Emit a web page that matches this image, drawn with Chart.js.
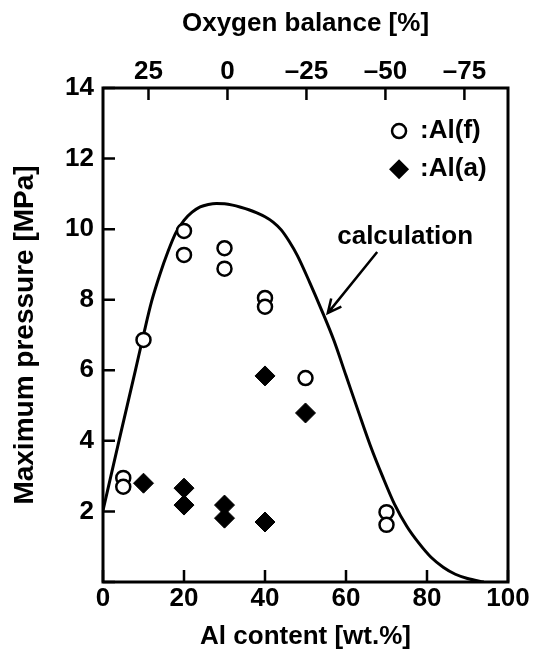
<!DOCTYPE html>
<html>
<head>
<meta charset="utf-8">
<script src="https://cdn.jsdelivr.net/npm/chart.js@4.4.1/dist/chart.umd.min.js"></script>
<style>
  html, body { margin: 0; padding: 0; background: #fff; }
  #wrap { width: 534px; height: 661px; }
</style>
</head>
<body>
<div id="wrap"><canvas id="pressureChart"></canvas></div>
<script>
// Maximum pressure vs Al content

const alContentTicks = [0, 20, 40, 60, 80, 100];
const pressureTicks = [0, 2, 4, 6, 8, 10, 12, 14];
const oxygenBalanceTicks = [25, 0, -25, -50, -75];
// oxygen balance at 0 and 100 wt.% Al
const oxygenBalanceEnds = [39.4, -88.8];

// Al(f) - open circles
const alFx = [5, 5, 10, 20, 20, 30, 30, 40, 40, 50, 70, 70];
const alFy = [2.95, 2.7, 6.86, 9.95, 9.27, 9.46, 8.88, 8.05, 7.8, 5.78, 1.98, 1.62];

// Al(a) - filled diamonds
const alAx = [10, 20, 20, 30, 30, 40, 40, 50];
const alAy = [2.8, 2.66, 2.18, 2.18, 1.81, 5.84, 1.7, 4.79];

// calculation curve
const calcX = [0, 4, 8, 10, 12, 14, 16, 18, 20, 22, 24, 26, 28, 30, 32, 34, 36, 38, 40, 42, 44, 46, 48, 51, 54, 57, 60, 63, 66, 69, 72, 75, 78, 81, 84, 87, 90, 94];
const calcY = [2.03, 4.03, 6.0, 7.0, 7.95, 8.7, 9.35, 9.9, 10.25, 10.48, 10.63, 10.7, 10.73, 10.72, 10.68, 10.62, 10.55, 10.46, 10.35, 10.2, 9.98, 9.65, 9.25, 8.5, 7.7, 6.85, 5.85, 4.85, 3.87, 3.0, 2.2, 1.58, 1.1, 0.7, 0.42, 0.22, 0.1, 0];

const seriesLabels = [':Al(f)', ':Al(a)'];
const curveLabel = 'calculation';

const toPoints = (xs, ys) => xs.map((x, i) => ({ x: x, y: ys[i] }));

Chart.defaults.font.family = '"Liberation Sans", Arial, Helvetica, sans-serif';
Chart.defaults.font.size = 26;
Chart.defaults.font.weight = 'bold';
Chart.defaults.color = '#000';

// frame, inward tick marks
const frameTicks = {
    id: 'frameTicks',
    afterDatasetsDraw(chart) {
        const { ctx, chartArea: a, scales } = chart;
        ctx.save();
        ctx.strokeStyle = '#000';
        ctx.lineWidth = 2.5;
        ctx.beginPath();
        scales.x.ticks.forEach(t => {
            const px = scales.x.getPixelForValue(t.value);
            ctx.moveTo(px, a.bottom);
            ctx.lineTo(px, a.bottom - 12);
        });
        scales.x2.ticks.forEach(t => {
            const px = scales.x2.getPixelForValue(t.value);
            ctx.moveTo(px, a.top);
            ctx.lineTo(px, a.top + 12);
        });
        scales.y.ticks.forEach(t => {
            const py = scales.y.getPixelForValue(t.value);
            ctx.moveTo(a.left, py);
            ctx.lineTo(a.left + 12, py);
        });
        ctx.stroke();
        ctx.lineWidth = 3;
        ctx.strokeRect(a.left, a.top, a.width, a.height);
        ctx.restore();
    }
};

// legend, label and arrow inside the plot
const notes = {
    id: 'notes',
    afterDraw(chart) {
        const { ctx, scales: { x, y } } = chart;
        ctx.save();
        ctx.fillStyle = '#000';
        ctx.strokeStyle = '#000';
        ctx.font = 'bold 26px "Liberation Sans", Arial, sans-serif';
        ctx.textBaseline = 'middle';
        ctx.textAlign = 'left';

        // legend
        const lx = x.getPixelForValue(73.1);
        const ly1 = y.getPixelForValue(12.78);
        const ly2 = y.getPixelForValue(11.7);
        ctx.lineWidth = 2.5;
        ctx.beginPath();
        ctx.arc(lx, ly1, 7, 0, Math.PI * 2);
        ctx.stroke();
        ctx.beginPath();
        ctx.moveTo(lx, ly2 - 10);
        ctx.lineTo(lx + 10, ly2);
        ctx.lineTo(lx, ly2 + 10);
        ctx.lineTo(lx - 10, ly2);
        ctx.closePath();
        ctx.fill();
        const tx = x.getPixelForValue(78.3);
        ctx.fillText(seriesLabels[0], tx, ly1);
        ctx.fillText(seriesLabels[1], tx, ly2);

        // calculation label
        ctx.textAlign = 'center';
        ctx.fillText(curveLabel, x.getPixelForValue(74.6), y.getPixelForValue(9.78));

        // arrow
        const x0 = x.getPixelForValue(67.7), y0 = y.getPixelForValue(9.35);
        const x1 = x.getPixelForValue(55.5), y1 = y.getPixelForValue(7.62);
        const ang = Math.atan2(y1 - y0, x1 - x0);
        ctx.lineWidth = 2.5;
        ctx.beginPath();
        ctx.moveTo(x0, y0);
        ctx.lineTo(x1, y1);
        ctx.moveTo(x1 - 15 * Math.cos(ang - 0.45), y1 - 15 * Math.sin(ang - 0.45));
        ctx.lineTo(x1, y1);
        ctx.lineTo(x1 - 15 * Math.cos(ang + 0.45), y1 - 15 * Math.sin(ang + 0.45));
        ctx.stroke();
        ctx.restore();
    }
};

const ctx = document.getElementById('pressureChart').getContext('2d');

new Chart(ctx, {
    type: 'scatter',
    data: {
        datasets: [
            {
                label: seriesLabels[0],
                data: toPoints(alFx, alFy),
                pointStyle: 'circle',
                pointRadius: 7,
                pointBorderWidth: 2.5,
                pointBackgroundColor: '#fff',
                pointBorderColor: '#000',
                order: 1
            },
            {
                label: seriesLabels[1],
                data: toPoints(alAx, alAy),
                pointStyle: 'rectRot',
                pointRadius: 10,
                pointBorderWidth: 1,
                pointBackgroundColor: '#000',
                pointBorderColor: '#000',
                order: 2
            },
            {
                label: curveLabel,
                data: toPoints(calcX, calcY),
                showLine: true,
                pointRadius: 0,
                borderColor: '#000',
                borderWidth: 3,
                cubicInterpolationMode: 'monotone',
                fill: false,
                order: 3
            }
        ]
    },
    options: {
        responsive: true,
        maintainAspectRatio: false,
        animation: false,
        layout: { padding: { left: 0, right: 26, top: 0, bottom: 0 } },
        plugins: {
            legend: { display: false },
            tooltip: { enabled: false }
        },
        scales: {
            x: {
                type: 'linear',
                position: 'bottom',
                min: alContentTicks[0],
                max: alContentTicks[alContentTicks.length - 1],
                grid: { display: false, drawTicks: false },
                border: { display: false },
                afterBuildTicks(s) { s.ticks = alContentTicks.map(v => ({ value: v })); },
                ticks: { padding: 1, autoSkip: false, maxRotation: 0 },
                title: {
                    display: true,
                    text: 'Al content [wt.%]',
                    padding: { top: 0, bottom: 9 }
                },
                afterFit(s) { s.height = 79; }
            },
            x2: {
                type: 'linear',
                position: 'top',
                min: oxygenBalanceEnds[1],
                max: oxygenBalanceEnds[0],
                reverse: true,
                grid: { display: false, drawTicks: false },
                border: { display: false },
                afterBuildTicks(s) { s.ticks = oxygenBalanceTicks.map(v => ({ value: v })); },
                ticks: {
                    padding: 1,
                    autoSkip: false,
                    maxRotation: 0,
                    callback: v => String(v).replace('-', '\u2013')
                },
                title: {
                    display: true,
                    text: 'Oxygen balance [%]',
                    padding: { top: 8, bottom: 0 }
                },
                afterFit(s) { s.height = 88; }
            },
            y: {
                type: 'linear',
                min: pressureTicks[0],
                max: pressureTicks[pressureTicks.length - 1],
                grid: { display: false, drawTicks: false },
                border: { display: false },
                afterBuildTicks(s) { s.ticks = pressureTicks.map(v => ({ value: v })); },
                ticks: {
                    padding: 9,
                    autoSkip: false,
                    callback: v => (v === 0 ? '' : v)
                },
                title: {
                    display: true,
                    text: 'Maximum pressure [MPa]',
                    font: { size: 28 },
                    padding: { top: 8, bottom: 0 }
                },
                afterFit(s) { s.width = 103; }
            }
        }
    },
    plugins: [frameTicks, notes]
});
</script>
</body>
</html>
